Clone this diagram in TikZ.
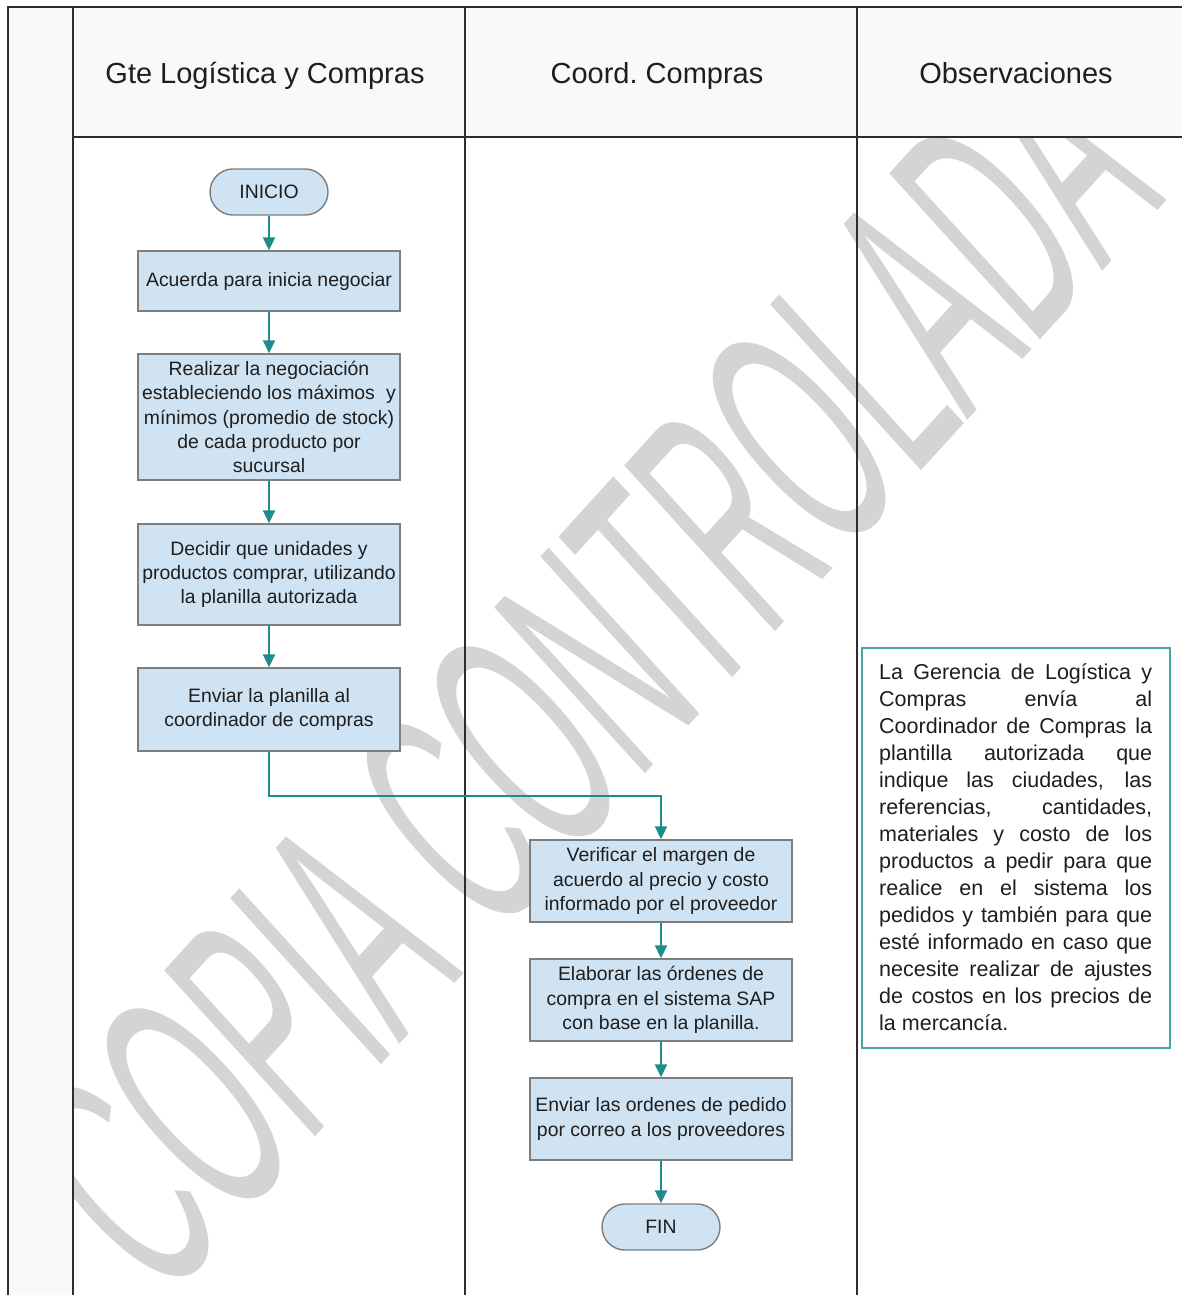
\documentclass[tikz,border=0pt]{standalone}
\usepackage{fontspec}
\setmainfont{Liberation Sans}
\usetikzlibrary{arrows.meta}
\definecolor{frame}{RGB}{45,45,45}
\definecolor{headfill}{RGB}{249,249,249}
\definecolor{boxfill}{RGB}{207,227,243}
\definecolor{boxline}{RGB}{125,125,125}
\definecolor{flowteal}{RGB}{28,140,140}
\definecolor{noteteal}{RGB}{70,165,165}
\definecolor{stamp}{RGB}{212,212,212}
\definecolor{ink}{RGB}{30,30,30}

\begin{document}
\begin{tikzpicture}[x=1pt,y=-1pt,
  lane/.style={draw=frame,line width=2pt},
  procbox/.style={draw=boxline,fill=boxfill,line width=1.4pt,minimum width=262pt,
    inner sep=2pt,align=center,text=ink,font=\fontsize{19.4}{24.3}\selectfont},
  terminal/.style={procbox,minimum width=118pt,minimum height=46pt,rounded corners=23pt},
  flow/.style={draw=flowteal,line width=2pt,-{Triangle[width=12pt,length=13pt]}},
  headtext/.style={anchor=base,text=ink,font=\fontsize{29}{34}\selectfont}]

\useasboundingbox (0,0) rectangle (1182,1295);
\fill[white] (0,0) rectangle (1182,1295);

% shaded side strip and header band
\fill[headfill] (8,7) rectangle (73,1295);
\fill[headfill] (73,7) rectangle (1182,137);

% diagonal stamp across the lanes
\begin{scope}
  \clip (73,137) rectangle (1182,1295);
  \begin{scope}[shift={(589,670)},yscale=1.1]
    \node[text=stamp,inner sep=0pt,rotate=45,transform shape,font=\fontsize{310}{310}\selectfont]
      (stamp) at (0,0) {\scalebox{0.444}[1]{COPIA CONTROLADA}};
  \end{scope}
\end{scope}

% lane grid
\draw[lane] (8,1295) -- (8,7) -- (1182,7);
\draw[lane] (73,7) -- (73,1295);
\draw[lane] (465,7) -- (465,1295);
\draw[lane] (857,7) -- (857,1295);
\draw[lane] (73,137) -- (1182,137);

% lane titles
\node[headtext] (h1) at (265,84) {Gte Logística y Compras};
\node[headtext] (h2) at (657,84) {Coord.\ Compras};
\node[headtext] (h3) at (1016,84) {Observaciones};

% first lane
\node[terminal] (inicio) at (269,192) {INICIO};
\node[procbox,minimum height=60pt] (b1) at (269,281) {Acuerda para inicia negociar};
\node[procbox,minimum height=126pt] (b2) at (269,417)
  {Realizar la negociación\\estableciendo los máximos\hspace{0.3em} y\\mínimos (promedio de stock)\\de cada producto por\\sucursal};
\node[procbox,minimum height=101pt] (b3) at (269,574.5)
  {Decidir que unidades y\\productos comprar, utilizando\\la planilla autorizada};
\node[procbox,minimum height=83pt] (b4) at (269,709.5)
  {Enviar la planilla al\\coordinador de compras};

% second lane
\node[procbox,minimum height=82pt] (b5) at (661,881)
  {Verificar el margen de\\acuerdo al precio y costo\\informado por el proveedor};
\node[procbox,minimum height=82pt] (b6) at (661,1000)
  {Elaborar las órdenes de\\compra en el sistema SAP\\con base en la planilla.};
\node[procbox,minimum height=82pt] (b7) at (661,1119)
  {Enviar las ordenes de pedido\\por correo a los proveedores};
\node[terminal] (fin) at (661,1227) {FIN};

% flow
\draw[flow] (inicio) -- (b1);
\draw[flow] (b1) -- (b2);
\draw[flow] (b2) -- (b3);
\draw[flow] (b3) -- (b4);
\draw[flow] (b4.south) -- ++(0,44) -| (b5.north);
\draw[flow] (b5) -- (b6);
\draw[flow] (b6) -- (b7);
\draw[flow] (b7) -- (fin);

% observation note
\node[draw=noteteal,line width=2pt,fill=white,minimum width=308pt,minimum height=400pt,inner sep=0pt]
  (obs) at (1016,848) {};
\node[anchor=base west,inner sep=0pt,text=ink] (obstext) at ([xshift=18pt,yshift=-32pt]obs.north west)
  {\parbox[t]{273pt}{\fontsize{21.5}{27}\selectfont
   \makebox[273pt][s]{La Gerencia de Logística y}\\
   \makebox[273pt][s]{Compras envía al}\\
   \makebox[273pt][s]{Coordinador de Compras la}\\
   \makebox[273pt][s]{plantilla autorizada que}\\
   \makebox[273pt][s]{indique las ciudades, las}\\
   \makebox[273pt][s]{referencias, cantidades,}\\
   \makebox[273pt][s]{materiales y costo de los}\\
   \makebox[273pt][s]{productos a pedir para que}\\
   \makebox[273pt][s]{realice en el sistema los}\\
   \makebox[273pt][s]{pedidos y también para que}\\
   \makebox[273pt][s]{esté informado en caso que}\\
   \makebox[273pt][s]{necesite realizar de ajustes}\\
   \makebox[273pt][s]{de costos en los precios de}\\
   la mercancía.}};

\end{tikzpicture}
\end{document}
